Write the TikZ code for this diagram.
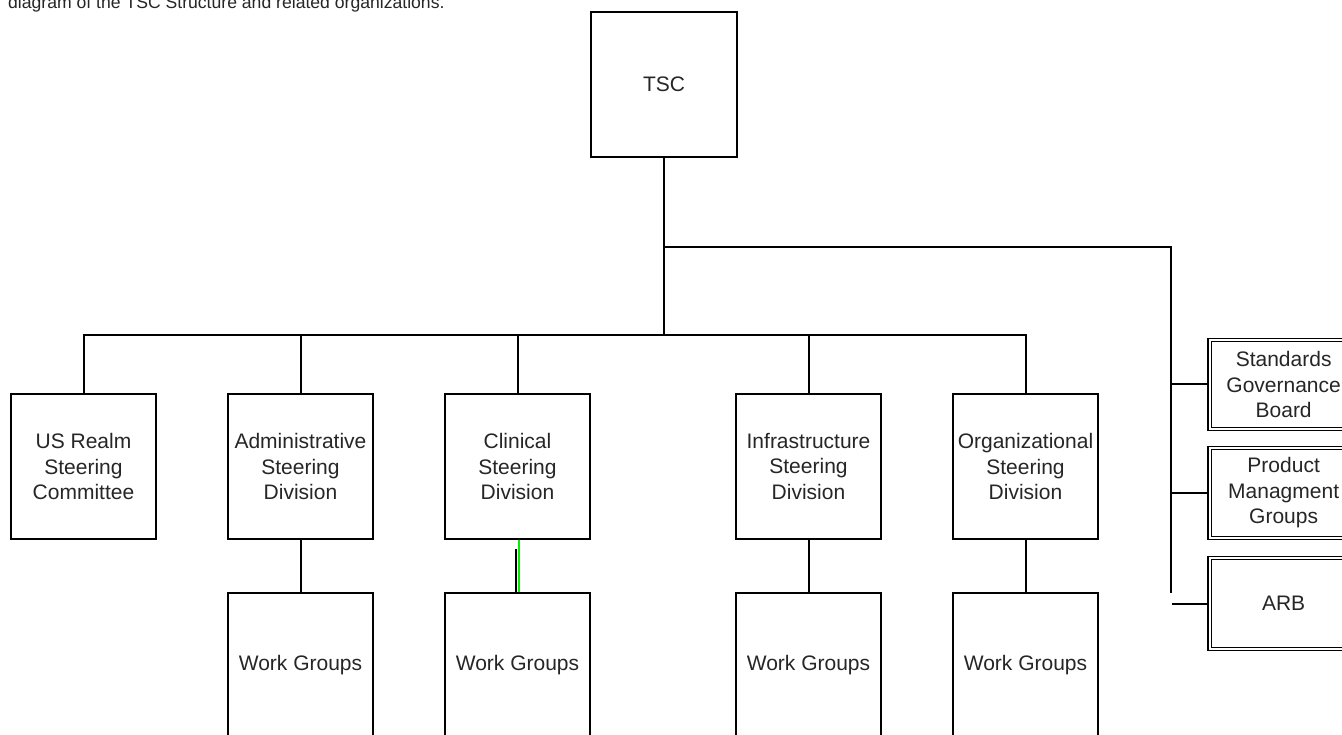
\documentclass[tikz,border=0pt]{standalone}
\usepackage{fontspec}
\setmainfont{Liberation Sans}
\begin{document}
\begin{tikzpicture}[x=1pt,y=-1pt,
  box/.style={draw=black,line width=2pt,rectangle,minimum width=145pt,minimum height=145pt,
    inner sep=0pt,align=center,text=black!85,font=\fontsize{21}{25.5}\selectfont},
  dbox/.style={draw=black,double=white,line width=1.3pt,double distance=2.2pt,rectangle,
    minimum width=148pt,inner sep=0pt,align=center,text=black!85,font=\fontsize{21}{25.5}\selectfont},
  link/.style={draw=black,line width=2pt}]
\clip (0,0) rectangle (1342,735);
\useasboundingbox (0,0) rectangle (1342,735);
\fill[white] (0,0) rectangle (1342,735);

\node[anchor=base west,font=\fontsize{17.6}{20}\selectfont,text=black!85,inner sep=0pt] (cap) at (8,8.5)
  {diagram of the TSC Structure and related organizations.};

\node[box,minimum width=146pt] (tsc) at (664,84.5) {TSC};

\node[box] (usr) at (83.5,466.5) {US Realm\\Steering\\Committee};
\node[box] (asd) at (300.5,466.5) {Administrative\\Steering\\Division};
\node[box] (csd) at (517.5,466.5) {Clinical\\Steering\\Division};
\node[box] (isd) at (808.5,466.5) {Infrastructure\\Steering\\Division};
\node[box] (osd) at (1025.5,466.5) {Organizational\\Steering\\Division};

\node[box] (awg) at (300.5,665.5) {Work Groups};
\node[box] (cwg) at (517.5,665.5) {Work Groups};
\node[box] (iwg) at (808.5,665.5) {Work Groups};
\node[box] (owg) at (1025.5,665.5) {Work Groups};

\node[dbox,minimum height=89pt,anchor=west] (sgb) at (1209,384.5) {Standards\\Governance\\Board};
\node[dbox,minimum height=90pt,anchor=west] (pmg) at (1209,493) {Product\\Managment\\Groups};
\node[dbox,minimum height=91pt,anchor=west] (arb) at (1209,603.5) {ARB};

\coordinate (j1) at (664,247);
\coordinate (j2) at (664,335);
\coordinate (r1) at (1171,247);
\coordinate (r2) at (1171,593);

\draw[link] (tsc.south) -- (j2);
\draw[link] (j2) -| (usr.north);
\draw[link] (j2) -| (asd.north);
\draw[link] (j2) -| (csd.north);
\draw[link] (j2) -| (isd.north);
\draw[link] (j2) -| (osd.north);

\draw[link] (j1) -- (r1) -- (r2);
\draw[link] (r1 |- sgb.west) -- (sgb.west);
\draw[link] (r1 |- pmg.west) -- (pmg.west);
\draw[link] ([xshift=1pt]r1 |- arb.west) -- (arb.west);

\draw[link] (asd.south) -- (awg.north);
\draw[link] ([xshift=-1.5pt,yshift=-9pt]csd.south) -- ([xshift=-1.5pt]cwg.north);
\draw[link,draw={rgb,255:red,0;green,240;blue,0},line width=2pt] ([xshift=1pt]csd.south) -- ([xshift=1pt]cwg.north);
\draw[link] (isd.south) -- (iwg.north);
\draw[link] (osd.south) -- (owg.north);
\end{tikzpicture}
\end{document}
